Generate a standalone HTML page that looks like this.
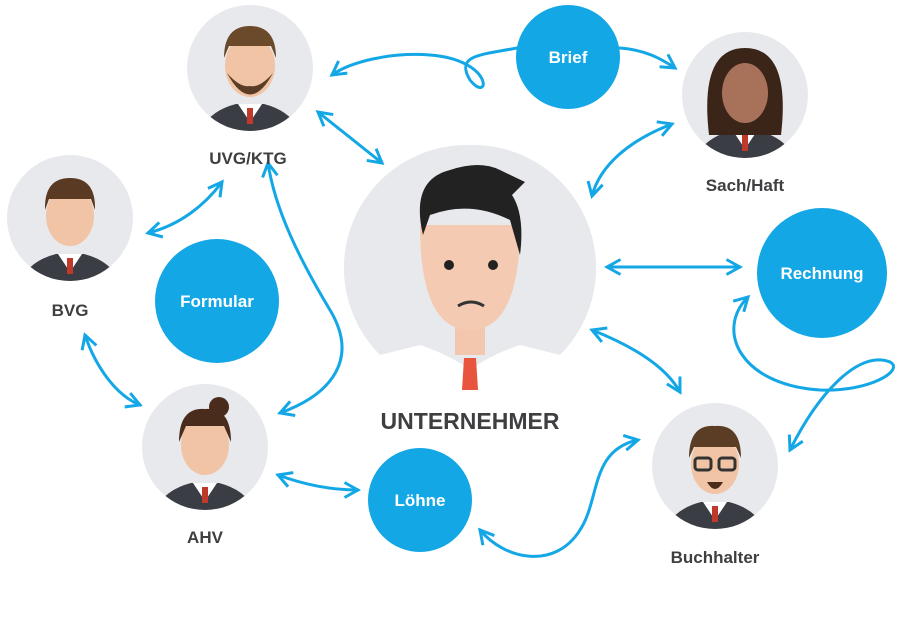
<!DOCTYPE html>
<html><head><meta charset="utf-8"><style>
html,body{margin:0;padding:0;background:#fff;}
svg{display:block}
text{font-family:"Liberation Sans",sans-serif;font-weight:bold;}
</style></head><body>
<svg width="900" height="633" viewBox="0 0 900 633" xmlns="http://www.w3.org/2000/svg">
<defs>
<marker id="a" viewBox="0 0 12 12" refX="10" refY="6" markerWidth="6" markerHeight="6" orient="auto-start-reverse" markerUnits="strokeWidth">
<path d="M1,1 L10,6 L1,11" fill="none" stroke="#14a7e6" stroke-width="2"/>
</marker>
<clipPath id="c"><circle r="63"/></clipPath>
<g id="suit"><path d="M-52,70 Q-45,44 -14,36 L14,36 Q45,44 52,70 Z" fill="#3a3d44"/><path d="M-12,36 L0,54 L12,36 Z" fill="#fff"/><rect x="-3" y="40" width="6" height="16" fill="#c0392b"/></g>
</defs>
<g fill="none" stroke="#14a7e6" stroke-width="3" stroke-linecap="round">
<path d="M318,112 L382,163" marker-start="url(#a)" marker-end="url(#a)"/>
<path d="M517,48 C480,55 455,55 470,80 C490,105 495,60 430,55 C390,52 350,62 332,75" marker-end="url(#a)"/>
<path d="M620,48 C645,50 660,58 675,68" marker-end="url(#a)"/>
<path d="M672,124 C630,140 600,165 592,196" marker-start="url(#a)" marker-end="url(#a)"/>
<path d="M607,267 L740,267" marker-start="url(#a)" marker-end="url(#a)"/>
<path d="M748,297 C715,330 740,385 820,390 C870,392 905,370 890,362 C860,350 820,390 790,450" marker-start="url(#a)" marker-end="url(#a)"/>
<path d="M592,330 C630,345 665,365 680,392" marker-start="url(#a)" marker-end="url(#a)"/>
<path d="M638,440 C590,450 600,500 580,530 C555,570 505,560 480,530" marker-start="url(#a)" marker-end="url(#a)"/>
<path d="M278,475 C305,485 330,490 358,490" marker-start="url(#a)" marker-end="url(#a)"/>
<path d="M280,413 C330,395 360,360 330,310 C300,260 275,210 268,163" marker-start="url(#a)" marker-end="url(#a)"/>
<path d="M148,233 C180,225 205,205 222,182" marker-start="url(#a)" marker-end="url(#a)"/>
<path d="M85,335 C95,365 115,395 140,405" marker-start="url(#a)" marker-end="url(#a)"/>
</g>
<g fill="#14a7e6">
<circle cx="568" cy="57" r="52"/><circle cx="217" cy="301" r="62"/><circle cx="822" cy="273" r="65"/><circle cx="420" cy="500" r="52"/>
</g>
<g fill="#fff" font-size="17" text-anchor="middle">
<text x="568" y="63">Brief</text><text x="217" y="307">Formular</text><text x="822" y="279">Rechnung</text><text x="420" y="506">Löhne</text>
</g>
<path d="M470,145 A123,123 0 0 1 560,355 L520,345 Q490,355 470,370 Q450,355 420,345 L380,355 A123,123 0 0 1 470,145Z" fill="#e8e9ed"/>
<path d="M420,345 L470,370 L520,345 L530,390 L410,390 Z" fill="#fff"/>
<rect x="455" y="320" width="30" height="35" fill="#f2c7ae"/>
<path d="M420,225 Q420,330 470,330 Q520,330 520,225 Z" fill="#f4cab2"/>
<path d="M423,235 Q410,180 450,170 Q480,160 500,170 L525,182 L512,195 Q525,215 520,255 L510,220 Q470,200 430,215 Z" fill="#222"/>
<circle cx="449" cy="265" r="5" fill="#222"/><circle cx="493" cy="265" r="5" fill="#222"/>
<path d="M458,306 Q471,298 484,306" stroke="#333" stroke-width="3" fill="none"/>
<path d="M464,358 L476,358 L478,390 L462,390 Z" fill="#e8543e"/>
<text x="470" y="429" font-size="23" fill="#3f3f42" text-anchor="middle">UNTERNEHMER</text>
<g transform="translate(250,68)"><circle r="63" fill="#e8e9ed"/><g clip-path="url(#c)"><use href="#suit"/></g><ellipse cx="0" cy="-2" rx="25" ry="31" fill="#f1c4a5"/><path d="M-26,-10 Q-26,-42 0,-42 Q26,-42 26,-10 L21,-22 L-21,-22 Z" fill="#6b4a2b"/><path d="M-23,5 Q0,48 23,5 Q10,20 0,18 Q-10,20 -23,5Z" fill="#5a3d24"/></g>
<g transform="translate(745,95)"><circle r="63" fill="#e8e9ed"/><g clip-path="url(#c)"><use href="#suit"/><path d="M-36,40 Q-46,-47 0,-47 Q46,-47 36,40 Z" fill="#3b2418"/></g><ellipse cx="0" cy="-2" rx="23" ry="30" fill="#a8715a"/></g>
<g transform="translate(70,218)"><circle r="63" fill="#e8e9ed"/><g clip-path="url(#c)"><use href="#suit"/></g><ellipse cx="0" cy="-2" rx="24" ry="30" fill="#f1c4a5"/><path d="M-25,-8 Q-26,-40 0,-40 Q26,-40 25,-8 L21,-19 L-21,-19 Z" fill="#5a3a22"/></g>
<g transform="translate(205,447)"><circle r="63" fill="#e8e9ed"/><g clip-path="url(#c)"><use href="#suit"/></g><ellipse cx="0" cy="-2" rx="24" ry="30" fill="#f1c4a5"/><path d="M-26,-5 Q-26,-40 0,-38 Q26,-40 26,-5 L19,-21 L-19,-21 Z" fill="#4a2c1d"/><circle cx="14" cy="-40" r="10" fill="#4a2c1d"/></g>
<g transform="translate(715,466)"><circle r="63" fill="#e8e9ed"/><g clip-path="url(#c)"><use href="#suit"/></g><ellipse cx="0" cy="-2" rx="24" ry="30" fill="#f1c4a5"/><path d="M-26,-8 Q-26,-42 0,-40 Q26,-42 26,-8 L21,-19 L-21,-19 Z" fill="#5a3d24"/><rect x="-20" y="-8" width="16" height="12" rx="3" fill="none" stroke="#333" stroke-width="3"/><rect x="4" y="-8" width="16" height="12" rx="3" fill="none" stroke="#333" stroke-width="3"/><path d="M-8,16 Q0,30 8,16 Z" fill="#4a2c1d"/></g>
<g font-size="17" fill="#3f3f42" text-anchor="middle">
<text x="248" y="164">UVG/KTG</text><text x="745" y="191">Sach/Haft</text><text x="70" y="316">BVG</text><text x="205" y="543">AHV</text><text x="715" y="563">Buchhalter</text>
</g>
</svg>
</body></html>
